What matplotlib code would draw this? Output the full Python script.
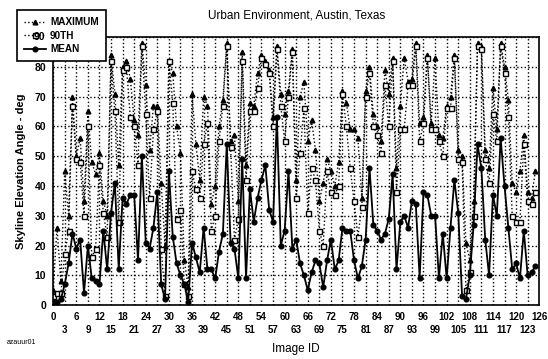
import numpy as np
import matplotlib
matplotlib.use("Agg")
import matplotlib.pyplot as plt

plt.rcParams['font.family'] = ['Liberation Sans', 'DejaVu Sans']

# valores (grados), imagen 0..125
maximo = [5, 26, 8, 45, 30, 70, 50, 56, 35, 65, 48, 44, 51, 35, 30, 84,
          71, 47, 80, 82, 76, 62, 57, 88, 74, 52, 67, 67, 41, 20, 82, 78,
          60, 51, 15, 6, 71, 54, 42, 70, 67, 34, 40, 60, 69, 88, 55, 57,
          35, 85, 47, 68, 67, 78, 84, 82, 79, 63, 87, 71, 64, 72, 86, 42,
          70, 75, 55, 62, 52, 35, 41, 49, 45, 40, 48, 72, 68, 59, 59, 56,
          36, 72, 80, 64, 60, 55, 79, 71, 83, 46, 67, 83, 75, 76, 88, 61,
          63, 84, 61, 83, 57, 56, 67, 70, 84, 52, 50, 21, 15, 35, 88, 87,
          52, 46, 73, 59, 88, 80, 69, 41, 38, 45, 57, 38, 36, 45]
p90 = [3, 4, 4, 17, 25, 67, 49, 48, 30, 60, 16, 19, 47, 31, 23, 82,
       65, 28, 79, 80, 63, 60, 47, 87, 64, 36, 59, 65, 19, 3, 82, 68,
       29, 32, 7, 3, 45, 39, 36, 54, 61, 25, 30, 55, 67, 87, 53, 22,
       29, 82, 42, 65, 65, 73, 83, 81, 78, 60, 86, 67, 55, 70, 85, 36,
       51, 66, 31, 46, 42, 25, 20, 45, 38, 37, 40, 71, 60, 46, 35, 23,
       33, 70, 78, 60, 57, 51, 74, 60, 82, 38, 59, 59, 74, 74, 87, 55,
       61, 83, 59, 59, 55, 50, 66, 66, 83, 49, 48, 5, 11, 30, 87, 86,
       49, 41, 64, 55, 87, 78, 63, 30, 28, 28, 54, 35, 34, 38]
media = [1, 1, 2, 7, 14, 24, 19, 22, 4, 20, 9, 8, 7, 25, 12, 31,
         41, 12, 36, 34, 37, 37, 15, 50, 21, 19, 26, 38, 7, 2, 45, 23,
         14, 10, 7, 1, 21, 16, 11, 26, 12, 12, 9, 18, 24, 54, 21, 19,
         9, 49, 9, 39, 28, 36, 42, 47, 32, 28, 63, 20, 25, 45, 19, 22,
         14, 10, 5, 11, 15, 14, 6, 15, 22, 12, 15, 26, 25, 25, 15, 9,
         13, 22, 46, 27, 25, 22, 24, 29, 44, 12, 28, 30, 26, 35, 34, 9,
         38, 37, 30, 30, 9, 24, 9, 26, 42, 31, 3, 2, 10, 27, 54, 46,
         22, 10, 37, 30, 56, 40, 26, 12, 14, 9, 25, 10, 11, 13]
imagen = np.arange(len(media))

fig = plt.figure(figsize=(5.48, 3.59), dpi=100)
ax = fig.add_axes([0.097, 0.150, 0.887, 0.747])

ax.plot(imagen, maximo, ':', color='black', lw=1, marker='^', ms=3.4,
        label='MAXIMUM')
ax.plot(imagen, p90, ':', color='black', lw=1, marker='s', ms=3.6,
        mfc='white', mec='black', mew=1, label='90TH')
ax.plot(imagen, media, '-', color='black', lw=1.3, marker='o', ms=3.4,
        label='MEAN')

ax.set_xlim(0, 126)
ax.set_ylim(0, 90)

# etiquetas en dos filas: multiplos de 6 arriba, el resto abajo
ax.set_xticks(np.arange(0, 127, 6))
ax.set_xticks(np.arange(3, 127, 6), minor=True)
ax.set_xticklabels([str(v) for v in range(0, 127, 6)], fontsize=7,
                   fontweight='bold')
ax.set_xticklabels([str(v) for v in range(3, 127, 6)], minor=True,
                   fontsize=7, fontweight='bold')
ax.tick_params(axis='x', which='major', length=0, pad=5)
ax.tick_params(axis='x', which='minor', length=0, pad=14)

ax.set_yticks(np.arange(0, 91, 10))
ax.set_yticklabels([str(v) for v in range(0, 90, 10)] + [''],
                   fontsize=7.5, fontweight='bold')
ax.tick_params(axis='y', length=0, pad=5)

ax.grid(True, which='both', axis='x', linestyle=':', color='black', lw=1)
ax.grid(True, axis='y', linestyle=':', color='black', lw=1)
for s in ax.spines.values():
    s.set_linewidth(1.2)

ax.set_xlabel('Image ID', fontsize=8.5, labelpad=6)
ax.set_ylabel('Skyline Elevation Angle - deg', fontsize=8, fontweight='bold',
              labelpad=6)
ax.set_title('Urban Environment, Austin, Texas', fontsize=8.5, pad=13)

leg = fig.legend(loc='upper left', bbox_to_anchor=(0.022, 0.986),
                 fontsize=7.2, frameon=True, fancybox=False, framealpha=1,
                 edgecolor='black', handlelength=2.2, labelspacing=0.35,
                 borderpad=0.7, handletextpad=0.4)
leg.get_frame().set_linewidth(1.2)
for t in leg.get_texts():
    t.set_fontweight('bold')

fig.text(0.082, 0.897, '90', fontsize=7.5, fontweight='bold', ha='right',
         va='center', zorder=10)
fig.text(0.012, 0.045, 'azauur01', fontsize=5, va='center')

fig.savefig('out.png', dpi=100)
